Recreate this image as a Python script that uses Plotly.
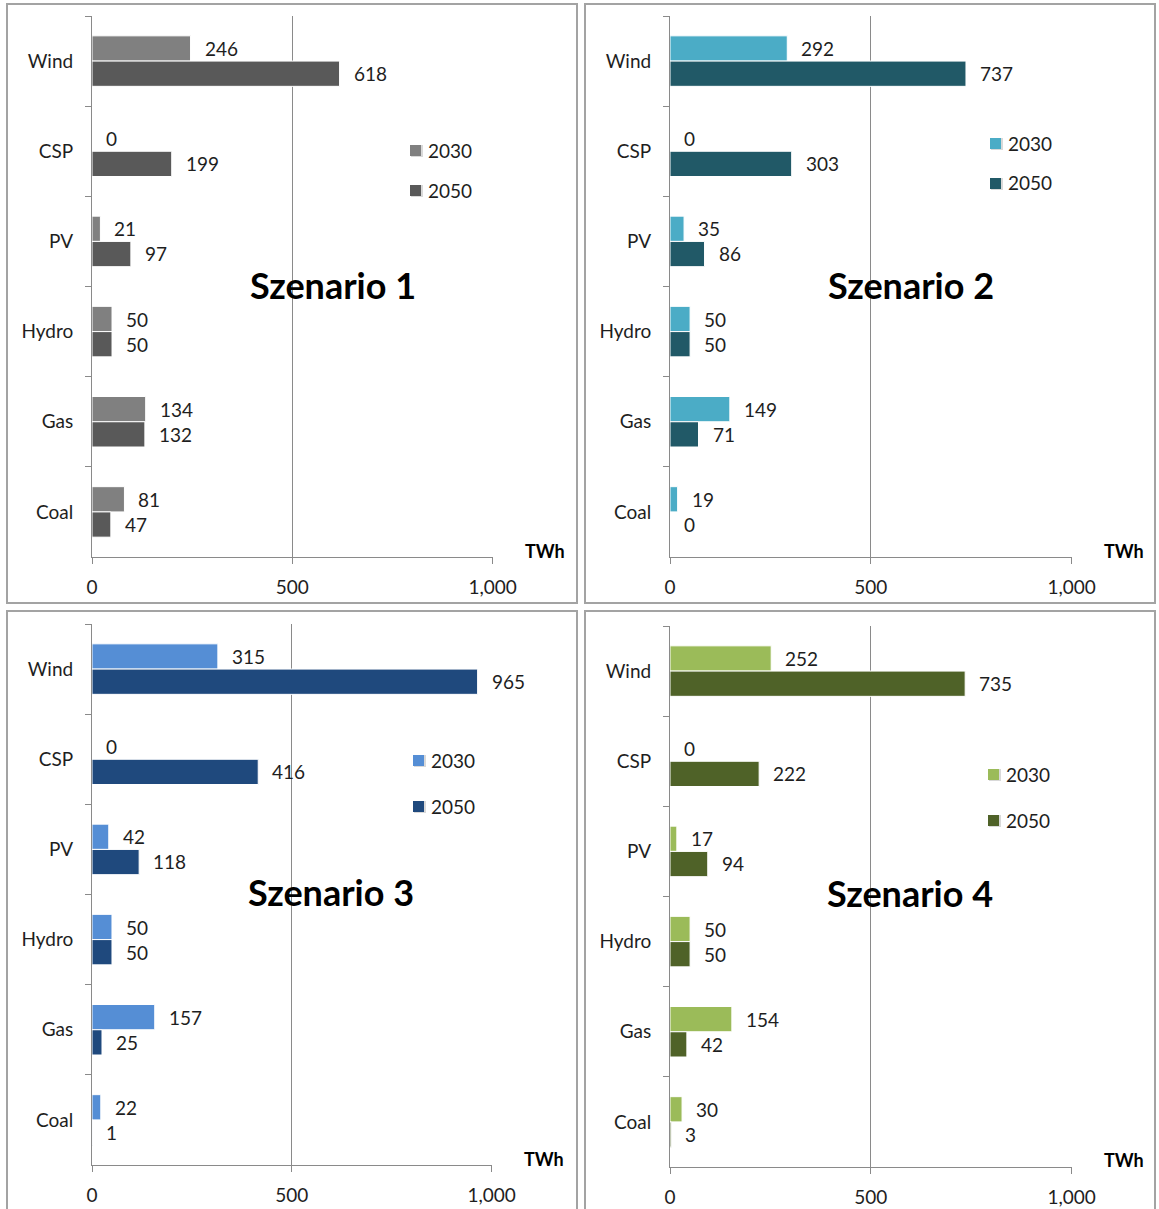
import plotly.graph_objects as go

W, H = 1159, 1209

categories = ["Wind", "CSP", "PV", "Hydro", "Gas", "Coal"]
series_names = ["2030", "2050"]

scenario_titles = ["Szenario 1", "Szenario 2", "Szenario 3", "Szenario 4"]

s1_2030 = [246, 0, 21, 50, 134, 81]
s1_2050 = [618, 199, 97, 50, 132, 47]
s2_2030 = [292, 0, 35, 50, 149, 19]
s2_2050 = [737, 303, 86, 50, 71, 0]
s3_2030 = [315, 0, 42, 50, 157, 22]
s3_2050 = [965, 416, 118, 50, 25, 1]
s4_2030 = [252, 0, 17, 50, 154, 30]
s4_2050 = [735, 222, 94, 50, 42, 3]

x_ticks = [0, 500, 1000]

colors = [
    ("#808080", "#595959"),
    ("#4bacc6", "#215967"),
    ("#558ed5", "#1f497d"),
    ("#9bbb59", "#4f6228"),
]

values = [(s1_2030, s1_2050), (s2_2030, s2_2050), (s3_2030, s3_2050), (s4_2030, s4_2050)]

# pixel layout of each panel: plot area, frame, legend, title, unit label
panels = [
    dict(px=(92, 493), py=(16, 557), box=(7, 4, 577, 603), leg=(410, 150, 190), title=(333, 285), unit=(567, 551)),
    dict(px=(670, 1072), py=(16, 557), box=(585, 4, 1155, 603), leg=(990, 143, 183), title=(911, 285), unit=(1146, 551)),
    dict(px=(92, 492), py=(624, 1165), box=(7, 611, 577, 1214), leg=(413, 760, 806), title=(331, 892), unit=(566, 1159)),
    dict(px=(670, 1072), py=(626, 1167), box=(585, 611, 1155, 1214), leg=(988, 774, 820), title=(910, 893), unit=(1146, 1160)),
]

FONT = "Lato"
TXT = "#1e1e1e"
AXC = "#8a8a8a"


def fx(x):
    return x / W


def fy(y):
    return 1 - y / H


fig = go.Figure()
shapes = []
annotations = []
layout = {}

for i, (p, (v30, v50), (c30, c50), title) in enumerate(zip(panels, values, colors, scenario_titles)):
    n = "" if i == 0 else str(i + 1)
    xa, ya = "x" + n, "y" + n
    for name, vals, col in ((series_names[0], v30, c30), (series_names[1], v50, c50)):
        fig.add_trace(go.Bar(
            x=vals, y=categories, orientation="h", name=name,
            marker=dict(color=col, line=dict(color="white", width=1)),
            xaxis=xa, yaxis=ya, showlegend=False, hoverinfo="x+y",
        ))
    # value labels next to each bar end
    for vals, ysh in ((v30, 12.5), (v50, -12.5)):
        for cat, v in zip(categories, vals):
            annotations.append(dict(
                x=v, y=cat, xref=xa, yref=ya, text=str(v), showarrow=False,
                xanchor="left", yanchor="middle", xshift=12, yshift=ysh,
                font=dict(family=FONT, size=19, color=TXT),
            ))

    layout["xaxis" + n] = dict(
        domain=[fx(p["px"][0]), fx(p["px"][1])], anchor=ya,
        range=[0, 1001], tickvals=x_ticks, tickformat=",d",
        showline=True, linecolor=AXC, linewidth=1,
        ticks="outside", ticklen=6, tickcolor=AXC,
        showgrid=True, gridcolor=AXC, gridwidth=1, zeroline=False,
        tickfont=dict(family=FONT, size=19, color=TXT),
        ticklabelstandoff=7, fixedrange=True, automargin=False,
    )
    layout["yaxis" + n] = dict(
        domain=[fy(p["py"][1]), fy(p["py"][0])], anchor=xa,
        type="category", categoryorder="array", categoryarray=categories,
        autorange="reversed",
        showline=True, linecolor=AXC, linewidth=1,
        ticks="outside", tickson="boundaries", ticklen=6, tickcolor=AXC,
        showgrid=False, zeroline=False,
        tickfont=dict(family=FONT, size=19, color=TXT),
        ticklabelstandoff=14, fixedrange=True, automargin=False,
    )

    # panel frame
    bx0, by0, bx1, by1 = p["box"]
    shapes.append(dict(type="rect", xref="paper", yref="paper",
                       x0=fx(bx0), x1=fx(bx1), y0=fy(by1), y1=fy(by0),
                       line=dict(color="#a3a3a3", width=2), fillcolor="rgba(0,0,0,0)"))

    # legend: small squares with year labels
    lx, ly1, ly2 = p["leg"]
    for col, ly, name in ((c30, ly1, series_names[0]), (c50, ly2, series_names[1])):
        shapes.append(dict(type="rect", xref="paper", yref="paper",
                           x0=fx(lx + 1), x1=fx(lx + 13), y0=fy(ly + 7), y1=fy(ly - 5),
                           line=dict(width=0), fillcolor="#d9d9d9"))
        shapes.append(dict(type="rect", xref="paper", yref="paper",
                           x0=fx(lx), x1=fx(lx + 11), y0=fy(ly + 6), y1=fy(ly - 5),
                           line=dict(width=0), fillcolor=col))
        annotations.append(dict(x=fx(lx + 16), y=fy(ly), xref="paper", yref="paper",
                                text=name, showarrow=False, xanchor="left", yanchor="middle",
                                font=dict(family=FONT, size=19, color=TXT)))

    # scenario title
    tx, ty = p["title"]
    annotations.append(dict(x=fx(tx), y=fy(ty), xref="paper", yref="paper",
                            text="<b>" + title + "</b>", showarrow=False,
                            xanchor="center", yanchor="middle",
                            font=dict(family=FONT, size=36, color="#000000")))
    # unit label
    ux, uy = p["unit"]
    annotations.append(dict(x=fx(ux), y=fy(uy), xref="paper", yref="paper",
                            text="<b>TWh</b>", showarrow=False,
                            xanchor="right", yanchor="middle",
                            font=dict(family=FONT, size=18, color="#000000")))

fig.update_layout(
    width=W, height=H, autosize=False,
    margin=dict(l=0, r=0, t=0, b=0),
    paper_bgcolor="white", plot_bgcolor="white",
    barmode="group", bargap=0.44, bargroupgap=0.0,
    shapes=shapes, annotations=annotations,
    font=dict(family=FONT, size=19, color=TXT),
    **layout,
)

fig.write_html("out.html", config={"responsive": False})
